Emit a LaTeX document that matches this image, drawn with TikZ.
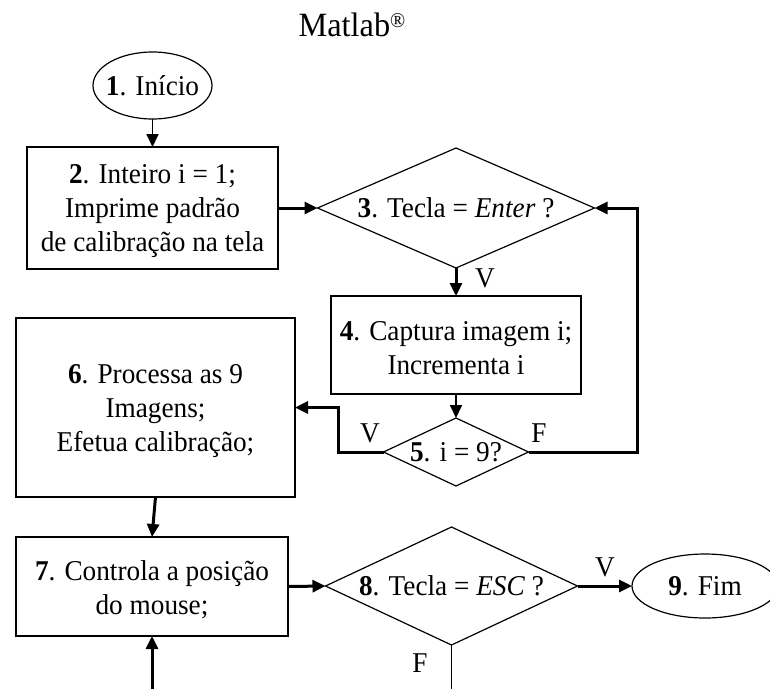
\documentclass[tikz,border=0pt]{standalone}
\usepackage{fontspec}
\setmainfont{Liberation Serif}[FakeStretch=0.95]
\usetikzlibrary{shapes.geometric,arrows.meta}
\newcommand\mytopstrut{\rule{0pt}{26pt}}
\begin{document}
\begin{tikzpicture}[x=1pt,y=-1pt,
  every node/.style={font=\fontsize{28.7}{34}\selectfont, inner sep=0pt, outer sep=0pt},
  box/.style={draw, line width=1.2pt, align=center},
  term/.style={draw, ellipse, line width=1.2pt},
  dec/.style={draw, diamond, line width=1.2pt},
  lbl/.style={},
  arrthin/.style={line width=1.8pt, -{Triangle[length=13pt,width=12pt]}},
  arrthick/.style={line width=3pt, -{Triangle[length=13pt,width=12pt]}},
  linethin/.style={line width=1.8pt}]
\fill[white] (0,0) rectangle (770,688);
\useasboundingbox (0,0) rectangle (770,688);
\clip (0,0) rectangle (770,688);

\node[anchor=base] (title) at (352,36) {\fontsize{34}{40}\selectfont Matlab\raisebox{9pt}{\fontsize{21}{21}\selectfont ®}};

\node[term, minimum width=119pt, minimum height=67pt] (e1) at (152.5,85.5) {};
\node (t1) at (e1) {\textbf{1}. Início};

\node[box, minimum width=251pt, minimum height=122pt] (b2) at (152.5,208) {\mytopstrut\textbf{2}. Inteiro i = 1;\\Imprime padrão\\de calibração na tela};

\node[dec, minimum width=277pt, minimum height=120pt] (d3) at (456,208) {};
\node (t3) at (d3) {\textbf{3}. Tecla = \textit{Enter} ?};

\node[box, minimum width=250pt, minimum height=98pt] (b4) at (456,345) {\mytopstrut\textbf{4}. Captura imagem i;\\Incrementa i};

\node[dec, minimum width=145pt, minimum height=68pt] (d5) at (456,452) {};
\node (t5) at (d5) {\textbf{5}. i = 9?};

\node[box, minimum width=279pt, minimum height=179pt] (b6) at (155.5,407.5) {\mytopstrut\textbf{6}. Processa as 9\\Imagens;\\Efetua calibração;};

\node[box, minimum width=272pt, minimum height=99pt] (b7) at (152,586.5) {\mytopstrut\textbf{7}. Controla a posição\\do mouse;};

\node[dec, minimum width=252pt, minimum height=118pt] (d8) at (451.5,586) {};
\node (t8) at (d8) {\textbf{8}. Tecla = \textit{ESC} ?};

\node[term, minimum width=146pt, minimum height=64pt] (e9) at (705,586) {};
\node (t9) at (e9) {\textbf{9}. Fim};

\node[lbl] (v3) at (485,278) {V};
\node[lbl] (v5) at (370,433) {V};
\node[lbl] (f5) at (539,433) {F};
\node[lbl] (v8) at (605,567) {V};
\node[lbl] (f8) at (420,663) {F};

\coordinate (k5) at (338,407.5);
\coordinate (k3) at (637,208);
\coordinate (bot) at (0,700);

\draw[arrthin] (e1.south) -- (b2.north);
\draw[arrthick] (b2.east) -- (d3.west);
\draw[arrthick] (d3.south) -- (b4.north);
\draw[arrthin] (b4.south) -- (d5.north);
\draw[arrthick] (d5.west) -| (k5) -- (b6.east);
\draw[arrthick] (d5.east) -| (k3) -- (d3.east);
\draw[arrthick] (b6.south) -- (b7.north);
\draw[arrthick] (b7.east) -- (d8.west);
\draw[arrthick] (d8.east) -- (e9.west);
\draw[linethin] (d8.south) -- (d8.south |- bot);
\draw[arrthick] (b7.south |- bot) -- (b7.south);
\end{tikzpicture}
\end{document}
